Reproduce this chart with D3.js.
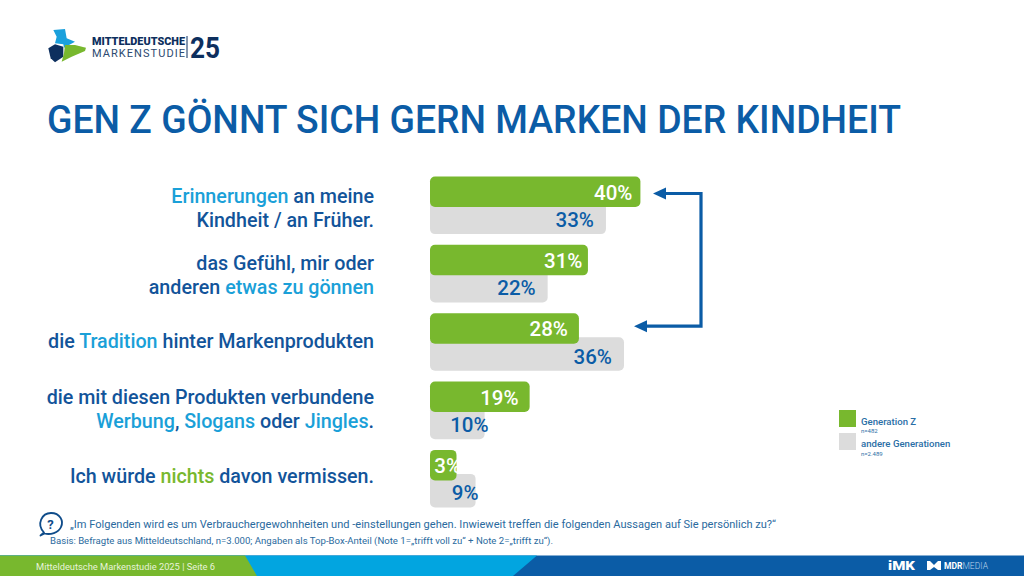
<!DOCTYPE html>
<html>
<head>
<meta charset="utf-8">
<script src="https://cdn.jsdelivr.net/npm/d3@7"></script>
<style>
  html, body { margin: 0; padding: 0; background: #fff; }
  svg { display: block; }
  text { font-family: Roboto, sans-serif; }
</style>
</head>
<body>
<div id="chart"></div>
<script>
// data
const categories = ['kindheit', 'goennen', 'tradition', 'werbung', 'nichts'];
// bar lengths as drawn (the slide does not scale them strictly to the printed number)
const genZ = [39.7, 29.8, 28.1, 18.8, 5.0];
const others = [33.2, 22.2, 36.6, 10.3, 8.6];
const genZLabels = ['40%', '31%', '28%', '19%', '3%'];
const otherLabels = ['33%', '22%', '36%', '10%', '9%'];

// each line is a list of [text, accent colour or null]
const rowText = [
  [[['Erinnerungen', 'blue'], [' an meine', null]], [['Kindheit / an Früher.', null]]],
  [[['das Gefühl, mir oder', null]], [['anderen ', null], ['etwas zu gönnen', 'blue']]],
  [[['die ', null], ['Tradition', 'blue'], [' hinter Markenprodukten', null]]],
  [[['die mit diesen Produkten verbundene', null]], [['Werbung', 'blue'], [', ', null], ['Slogans', 'blue'], [' oder ', null], ['Jingles', 'blue'], ['.', null]]],
  [[['Ich würde ', null], ['nichts', 'green'], [' davon vermissen.', null]]]
];

const navy = '#0b5ca6', darkText = '#12549a', green = '#78b82e', grey = '#dcdcdc';
const width = 1024, height = 576;

const svg = d3.select('#chart').append('svg')
  .attr('width', width).attr('height', height);

// scales
const x = d3.scaleLinear().domain([0, 40]).range([430, 642]);
const y = d3.scaleBand().domain(categories).range([176.5, 507.5]).paddingInner(0.157).paddingOuter(0).align(0);
const greenH = 30.5;
const greyTop = 24;

// title
svg.append('text').attr('x', 47).attr('y', 133)
  .attr('textLength', 854).attr('lengthAdjust', 'spacingAndGlyphs')
  .style('font-size', '39px').style('font-weight', 500).attr('fill', navy)
  .text('GEN Z GÖNNT SICH GERN MARKEN DER KINDHEIT');

// row labels
const accent = { blue: '#1aa0d8', green: '#78b82e' };
const labelMid = [32, 31, 29, 28, 27];
categories.forEach(function(c, i) {
  const lines = rowText[i];
  const mid = y(c) + labelMid[i];
  lines.forEach(function(line, k) {
    const t = svg.append('text')
      .attr('x', 374)
      .attr('y', mid + (k - (lines.length - 1) / 2) * 24 + 6)
      .attr('text-anchor', 'end')
      .style('font-size', '19.7px').style('font-weight', 500)
      .attr('fill', darkText);
    line.forEach(function(part) {
      const s = t.append('tspan').text(part[0]);
      if (part[1]) s.attr('fill', accent[part[1]]);
    });
  });
});

// grey bars first, green sits on top
const row = svg.append('g').selectAll('g').data(categories).enter().append('g');

row.append('rect')
  .attr('x', x(0))
  .attr('y', function(d) { return y(d) + greyTop; })
  .attr('width', function(d, i) { return x(others[i]) - x(0); })
  .attr('height', y.bandwidth() - greyTop)
  .attr('rx', 5)
  .attr('fill', grey);

row.append('rect')
  .attr('x', x(0))
  .attr('y', function(d) { return y(d); })
  .attr('width', function(d, i) { return x(genZ[i]) - x(0); })
  .attr('height', greenH)
  .attr('rx', 5)
  .attr('fill', green);

// label insets differ per bar on the slide
const greenInset = [8, 5.5, 11, 11];
row.append('text')
  .attr('x', function(d, i) { return i == 4 ? x(0) + 31 : x(genZ[i]) - greenInset[i]; })
  .attr('y', function(d) { return y(d) + 23; })
  .attr('text-anchor', 'end')
  .style('font-size', '20.5px').style('font-weight', 500)
  .attr('fill', '#fff')
  .text(function(d, i) { return genZLabels[i]; });

row.append('text')
  .attr('x', function(d, i) {
    if (i == 3) return x(others[i]) + 4;
    if (i == 4) return x(others[i]) + 3;
    return x(others[i]) - 12;
  })
  .attr('y', function(d) { return y(d) + 50.5; })
  .attr('text-anchor', 'end')
  .style('font-size', '20.5px').style('font-weight', 500)
  .attr('fill', navy)
  .text(function(d, i) { return otherLabels[i]; });

// bracket with the two arrows
const arrowA = y('kindheit') + 17, arrowB = y('tradition') + 13;
svg.append('path')
  .attr('d', d3.line()([[662, arrowA], [701, arrowA], [701, arrowB], [643, arrowB]]))
  .attr('fill', 'none').attr('stroke', navy).attr('stroke-width', 3.2);
svg.append('path').attr('fill', navy)
  .attr('d', d3.line()([[653, arrowA], [666, arrowA - 6], [666, arrowA + 6]]) + 'Z');
svg.append('path').attr('fill', navy)
  .attr('d', d3.line()([[634, arrowB], [647, arrowB - 6], [647, arrowB + 6]]) + 'Z');

// legend
const legend = svg.append('g');
legend.append('rect').attr('x', 839).attr('y', 410).attr('width', 17).attr('height', 17).attr('fill', green);
legend.append('rect').attr('x', 839).attr('y', 433).attr('width', 17).attr('height', 17).attr('fill', grey);
[['Generation Z', 425, 9.6, 500], ['n=482', 433, 6, 400], ['andere Generationen', 447, 9.6, 500], ['n=2.489', 456, 6, 400]].forEach(function(l) {
  legend.append('text').attr('x', 861).attr('y', l[1])
    .style('font-size', l[2] + 'px').style('font-weight', l[3])
    .attr('fill', '#2a6ea6').text(l[0]);
});

// question icon + notes
svg.append('path')
  .attr('d', 'M44 532.5 C36 524 42 513 51 513 C60 513 64 521 61 527 C58.5 533 50 535 44.5 533.5 L40.5 535.5 Z')
  .attr('fill', 'none').attr('stroke', '#0f4c8a').attr('stroke-width', 1.8).attr('stroke-linejoin', 'round');
svg.append('text').attr('x', 50.5).attr('y', 529).attr('text-anchor', 'middle')
  .style('font-size', '13px').style('font-weight', 700).attr('fill', '#0f4c8a').text('?');

svg.append('text').attr('x', 70).attr('y', 528)
  .attr('textLength', 706).attr('lengthAdjust', 'spacingAndGlyphs')
  .style('font-size', '10.6px').attr('fill', '#2a6a9e')
  .text('„Im Folgenden wird es um Verbrauchergewohnheiten und -einstellungen gehen. Inwieweit treffen die folgenden Aussagen auf Sie persönlich zu?“');
svg.append('text').attr('x', 50).attr('y', 544)
  .attr('textLength', 503).attr('lengthAdjust', 'spacingAndGlyphs')
  .style('font-size', '9.3px').attr('fill', '#2a6a9e')
  .text('Basis: Befragte aus Mitteldeutschland, n=3.000; Angaben als Top-Box-Anteil (Note 1=„trifft voll zu“ + Note 2=„trifft zu“).');

// footer bands
const poly = function(pts, fill) {
  svg.append('path').attr('d', d3.line()(pts) + 'Z').attr('fill', fill);
};
poly([[0, 555.5], [1024, 555.5], [1024, 576], [0, 576]], navy);
poly([[0, 555.5], [537, 555.5], [513, 576], [0, 576]], '#02a5e0');
poly([[0, 555.5], [245, 555.5], [257, 576], [0, 576]], green);
svg.append('text').attr('x', 36).attr('y', 570)
  .attr('textLength', 179).attr('lengthAdjust', 'spacingAndGlyphs')
  .style('font-size', '9.3px').attr('fill', '#e8f3da')
  .text('Mitteldeutsche Markenstudie 2025 | Seite 6');
svg.append('text').attr('x', 888).attr('y', 570)
  .attr('textLength', 27).attr('lengthAdjust', 'spacingAndGlyphs')
  .style('font-size', '13px').style('font-weight', 900).attr('fill', '#fff').text('iMK');
poly([[927, 561], [930, 561], [934, 565], [938, 561], [941, 561], [941, 570], [938, 570], [934, 567], [930, 570], [927, 570]], '#fff');
const mdr = svg.append('text').attr('x', 944).attr('y', 569)
  .attr('textLength', 44).attr('lengthAdjust', 'spacingAndGlyphs')
  .style('font-size', '8.5px').attr('fill', '#fff');
mdr.append('tspan').style('font-weight', 700).text('MDR');
mdr.append('tspan').style('font-weight', 300).attr('fill', '#b9d3ea').text('MEDIA');

// logo
const logoPt = function(p) { return [30 + p[0] / 3, 15 + p[1] / 3]; };
poly([[70, 45], [105, 42], [110, 70], [135, 80], [102, 98], [100, 88], [75, 85], [80, 65]].map(logoPt), '#1aa0dc');
poly([[55, 100], [75, 88], [100, 95], [100, 125], [75, 142], [62, 130]].map(logoPt), '#0d2f5e');
poly([[105, 90], [135, 90], [168, 98], [165, 108], [125, 125], [95, 140], [102, 115]].map(logoPt), '#78b82e');
svg.append('text').attr('x', 92).attr('y', 44.5)
  .attr('textLength', 93).attr('lengthAdjust', 'spacingAndGlyphs')
  .style('font-size', '11px').style('font-weight', 900).attr('fill', '#0d2f5e').text('MITTELDEUTSCHE');
svg.append('text').attr('x', 92).attr('y', 57)
  .attr('textLength', 93).attr('lengthAdjust', 'spacing')
  .style('font-size', '11px').style('font-weight', 400).attr('fill', '#2c4a70').text('MARKENSTUDIE');
svg.append('line').attr('x1', 187).attr('x2', 187).attr('y1', 36).attr('y2', 58)
  .attr('stroke', '#0d2f5e').attr('stroke-width', 1);
svg.append('text').attr('x', 190).attr('y', 58)
  .attr('textLength', 30).attr('lengthAdjust', 'spacingAndGlyphs')
  .style('font-size', '29px').style('font-weight', 700).attr('fill', '#0d2f5e').text('25');
</script>
</body>
</html>
